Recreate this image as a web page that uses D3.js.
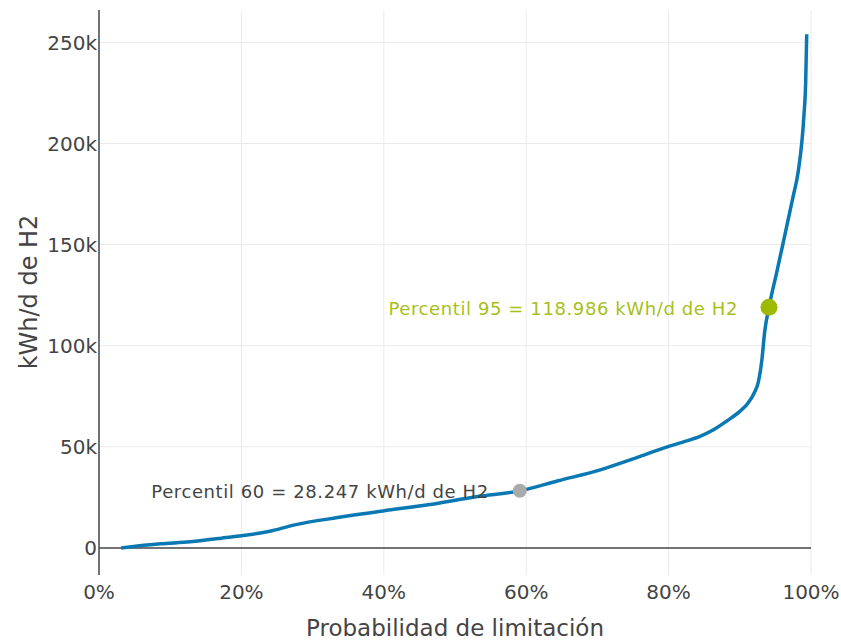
<!DOCTYPE html>
<html><head><meta charset="utf-8">
<script src="https://cdn.jsdelivr.net/npm/d3@7"></script>
<style>body{margin:0;background:#fff}svg{display:block}text{font-family:"DejaVu Sans",Verdana,sans-serif}</style>
</head><body>
<svg id="c" width="841" height="644"></svg>
<script>
const prob = [3.1, 8.6, 12.8, 17.2, 23.8, 27.5, 33.5, 39.9, 46.2, 53.2, 59.1, 64.5, 70.4, 75.0, 79.6, 82.0, 84.4, 86.3, 88.2, 90.0, 91.2, 92.0, 92.6, 93.1, 93.5, 94.1, 95.2, 96.1, 97.5, 98.2, 99.0, 99.25, 99.4];
const energy = [0, 2000, 3000, 4800, 8100, 11400, 15000, 18300, 21300, 25400, 28200, 33200, 38600, 44000, 49700, 52300, 55100, 58400, 62800, 67500, 71800, 76500, 82000, 93000, 107000, 119000, 136500, 151000, 174000, 186000, 213500, 230000, 254000];
const xTicks = [0, 20, 40, 60, 80, 100];
const yTicks = [0, 50000, 100000, 150000, 200000, 250000];
const markers = [
  {p: 59.1, v: 28247, label: "Percentil 60 = 28.247 kWh/d de H2", kind: "p60"},
  {p: 94.1, v: 118986, label: "Percentil 95 = 118.986 kWh/d de H2", kind: "p95"}
];
const xTitle = "Probabilidad de limitación";
const yTitle = "kWh/d de H2";

const svg = d3.select("#c");
const x = d3.scaleLinear().domain([0, 100]).range([99, 811]);
const y = d3.scaleLinear().domain([-13400, 266000]).range([575, 10]);

// grid
svg.append("g").selectAll("line").data(xTicks.slice(1)).join("line")
  .attr("x1", d => x(d)).attr("x2", d => x(d)).attr("y1", 10).attr("y2", 575)
  .attr("stroke", "#ebebeb").attr("stroke-width", 1);
svg.append("g").selectAll("line").data(yTicks.slice(1)).join("line")
  .attr("x1", 99).attr("x2", 811).attr("y1", d => y(d)).attr("y2", d => y(d))
  .attr("stroke", "#ebebeb").attr("stroke-width", 1);

// zero line
svg.append("line").attr("x1", 99).attr("x2", 811).attr("y1", y(0)).attr("y2", y(0))
  .attr("stroke", "#444").attr("stroke-width", 1.5);
// y axis line
svg.append("line").attr("x1", 99).attr("x2", 99).attr("y1", 10).attr("y2", 575)
  .attr("stroke", "#444").attr("stroke-width", 1.5);

// tick labels
svg.append("g").selectAll("text").data(yTicks).join("text")
  .attr("x", 97).attr("y", d => y(d)).attr("dy", "0.36em")
  .attr("text-anchor", "end").attr("fill", "#444").attr("font-size", 20)
  .text(d => d === 0 ? "0" : (d / 1000) + "k");
svg.append("g").selectAll("text").data(xTicks).join("text")
  .attr("x", d => x(d)).attr("y", 592).attr("dy", "0.36em")
  .attr("text-anchor", "middle").attr("fill", "#444").attr("font-size", 20)
  .text(d => d + "%");

// titles
svg.append("text").attr("x", 455).attr("y", 636)
  .attr("text-anchor", "middle").attr("fill", "#444").attr("font-size", 23).text(xTitle);
svg.append("text").attr("transform", "translate(28,292) rotate(-90)").attr("dy", "0.36em")
  .attr("text-anchor", "middle").attr("fill", "#444").attr("font-size", 24).text(yTitle);

// curve
const pts = prob.map((p, i) => [p, energy[i]]);
svg.append("path").datum(pts)
  .attr("d", d3.line().x(d => x(d[0])).y(d => y(d[1])).curve(d3.curveMonotoneX))
  .attr("fill", "none").attr("stroke", "#0a78b2").attr("stroke-width", 3.5);

// markers and annotations
const col = {p60: {m: "#aaaaaa", t: "#444", r: 7}, p95: {m: "#9db900", t: "#a8bf1a", r: 8.5}};
markers.forEach(m => {
  svg.append("circle").attr("cx", x(m.p)).attr("cy", y(m.v)).attr("r", col[m.kind].r).attr("fill", col[m.kind].m);
  svg.append("text").attr("x", x(m.p) - 31).attr("y", y(m.v) + 1).attr("dy", "0.36em")
    .attr("text-anchor", "end").attr("fill", col[m.kind].t).attr("font-size", 18)
    .attr("letter-spacing", 0.6).text(m.label);
});
</script>
</body></html>
